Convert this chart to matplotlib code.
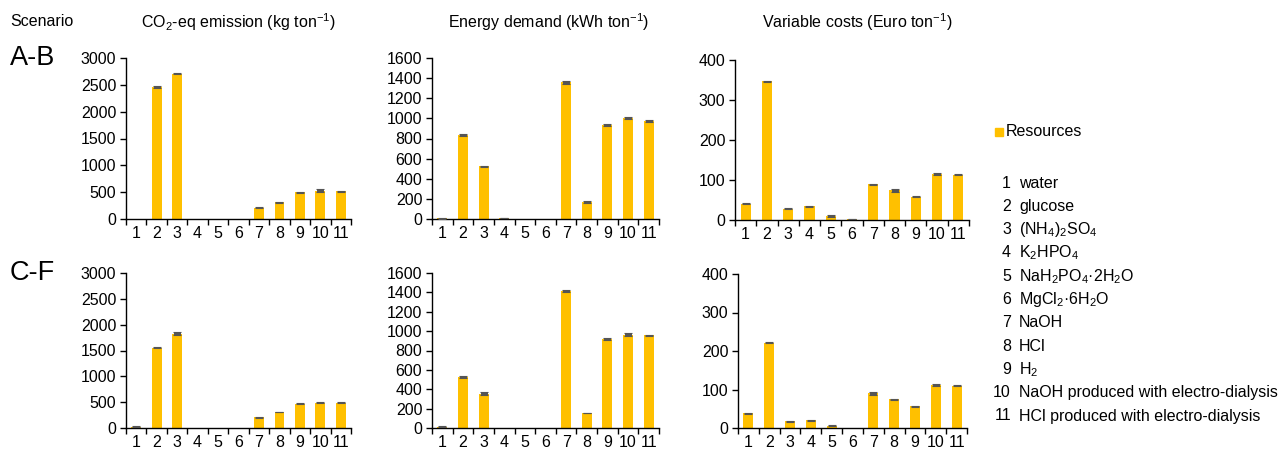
import numpy as np
import matplotlib
matplotlib.use("Agg")
import matplotlib.pyplot as plt

plt.rcParams['font.family'] = ['Liberation Sans', 'DejaVu Sans']
plt.rcParams['mathtext.fontset'] = 'custom'
plt.rcParams['mathtext.rm'] = 'Liberation Sans'
plt.rcParams['mathtext.it'] = 'Liberation Sans'
plt.rcParams['mathtext.default'] = 'regular'

categories = [str(i) for i in range(1, 12)]

# scenario A-B
co2_ab = [0, 2460, 2708, 0, 0, 0, 211, 310, 497, 528, 515]
co2_ab_err = [0, 15, 12, 0, 0, 0, 12, 12, 12, 31, 12]
energy_ab = [8, 835, 523, 10, 0, 0, 1358, 168, 937, 1005, 976]
energy_ab_err = [4, 6, 6, 4, 0, 0, 12, 10, 10, 12, 12]
cost_ab = [41, 347, 28, 34, 10, 3, 89, 74, 58, 115, 113]
cost_ab_err = [2, 1, 1.5, 2, 2, 0.5, 2, 3, 1.5, 3, 1.5]

# scenario C-F
co2_cf = [22, 1555, 1825, 0, 0, 0, 207, 312, 472, 492, 492]
co2_cf_err = [8, 10, 30, 0, 0, 0, 6, 7, 8, 8, 6]
energy_cf = [12, 528, 356, 0, 0, 0, 1416, 155, 922, 965, 958]
energy_cf_err = [4, 12, 12, 0, 0, 0, 12, 5, 10, 12, 5]
cost_cf = [38, 221, 17, 20, 6, 0, 90, 75, 56, 111, 110]
cost_cf_err = [2, 1.5, 2, 2, 2, 0, 3, 1.5, 1.5, 3, 1.5]

col_titles = ["CO$_2$-eq emission (kg ton$^{-1}$)",
              "Energy demand (kWh ton$^{-1}$)",
              "Variable costs (Euro ton$^{-1}$)"]
row_titles = ["A-B", "C-F"]

resources = ["water", "glucose", "(NH$_4$)$_2$SO$_4$", "K$_2$HPO$_4$",
             "NaH$_2$PO$_4$·2H$_2$O", "MgCl$_2$·6H$_2$O", "NaOH", "HCl",
             "H$_2$", "NaOH produced with electro-dialysis",
             "HCl produced with electro-dialysis"]

ylims = [3000, 1600, 400]
ysteps = [500, 200, 100]

W, H = 1288, 453
fig = plt.figure(figsize=(W / 100, H / 100), dpi=100)
fs = 11.5

def px_axes(x0, y0, x1, y1):
    return fig.add_axes([x0 / W, 1 - y1 / H, (x1 - x0) / W, (y1 - y0) / H])

rects = [
    [(126, 58, 351, 219), (432, 58, 659, 219), (735, 60, 969, 220)],
    [(126, 273, 351, 428), (432, 273, 659, 428), (738, 274, 967, 428)],
]
data = [
    [(co2_ab, co2_ab_err), (energy_ab, energy_ab_err), (cost_ab, cost_ab_err)],
    [(co2_cf, co2_cf_err), (energy_cf, energy_cf_err), (cost_cf, cost_cf_err)],
]

gold = '#FFC000'
dark = '#555555'
x = np.arange(1, 12)

for r in range(2):
    for c in range(3):
        ax = px_axes(*rects[r][c])
        vals, errs = data[r][c]
        vals = np.array(vals, dtype=float)
        errs = np.array(errs, dtype=float)
        ax.bar(x, vals, width=0.48, color=gold, zorder=2)
        show = errs > 0
        ax.errorbar(x[show], vals[show], yerr=errs[show], fmt='none',
                    ecolor=dark, elinewidth=5, capsize=2.8, capthick=0.8,
                    zorder=3)
        ax.set_xlim(0.5, 11.5)
        ax.set_ylim(0, ylims[c])
        ax.set_yticks(np.arange(0, ylims[c] + 1, ysteps[c]))
        ax.set_xticks(np.arange(0.5, 11.6, 1))
        ax.set_xticklabels([])
        ax.set_xticks(x, minor=True)
        ax.set_xticklabels(categories, minor=True)
        ax.tick_params(axis='x', which='major', direction='out', length=4,
                       width=1, color='black')
        ax.tick_params(axis='x', which='minor', length=0, labelsize=fs,
                       pad=5)
        ax.tick_params(axis='y', direction='out', length=4, width=1,
                       labelsize=fs, pad=3)
        for s in ['top', 'right']:
            ax.spines[s].set_visible(False)
        for s in ['left', 'bottom']:
            ax.spines[s].set_linewidth(1)

# titles
fig.text(10 / W, 1 - 22 / H, "Scenario", fontsize=fs, va='center', ha='left')
col_centers = [238, 549, 857]
for cx, t in zip(col_centers, col_titles):
    fig.text(cx / W, 1 - 22 / H, t, fontsize=fs, va='center', ha='center')
fig.text(10 / W, 1 - 58 / H, row_titles[0], fontsize=19.5, va='center', ha='left')
fig.text(10 / W, 1 - 273 / H, row_titles[1], fontsize=19.5, va='center', ha='left')

# legend
fig.patches.append(plt.Rectangle((995 / W, 1 - 136 / H), 8 / W, 8 / H,
                                 color=gold, transform=fig.transFigure,
                                 figure=fig))
fig.text(1006 / W, 1 - 132 / H, "Resources", fontsize=fs, va='center',
         ha='left')
for i, name in enumerate(resources):
    yy = 1 - (183 + i * 23.3) / H
    fig.text(1011 / W, yy, str(i + 1), fontsize=fs, va='center', ha='right')
    fig.text(1019 / W, yy, name, fontsize=fs, va='center', ha='left')

fig.savefig("out.png", dpi=100)
